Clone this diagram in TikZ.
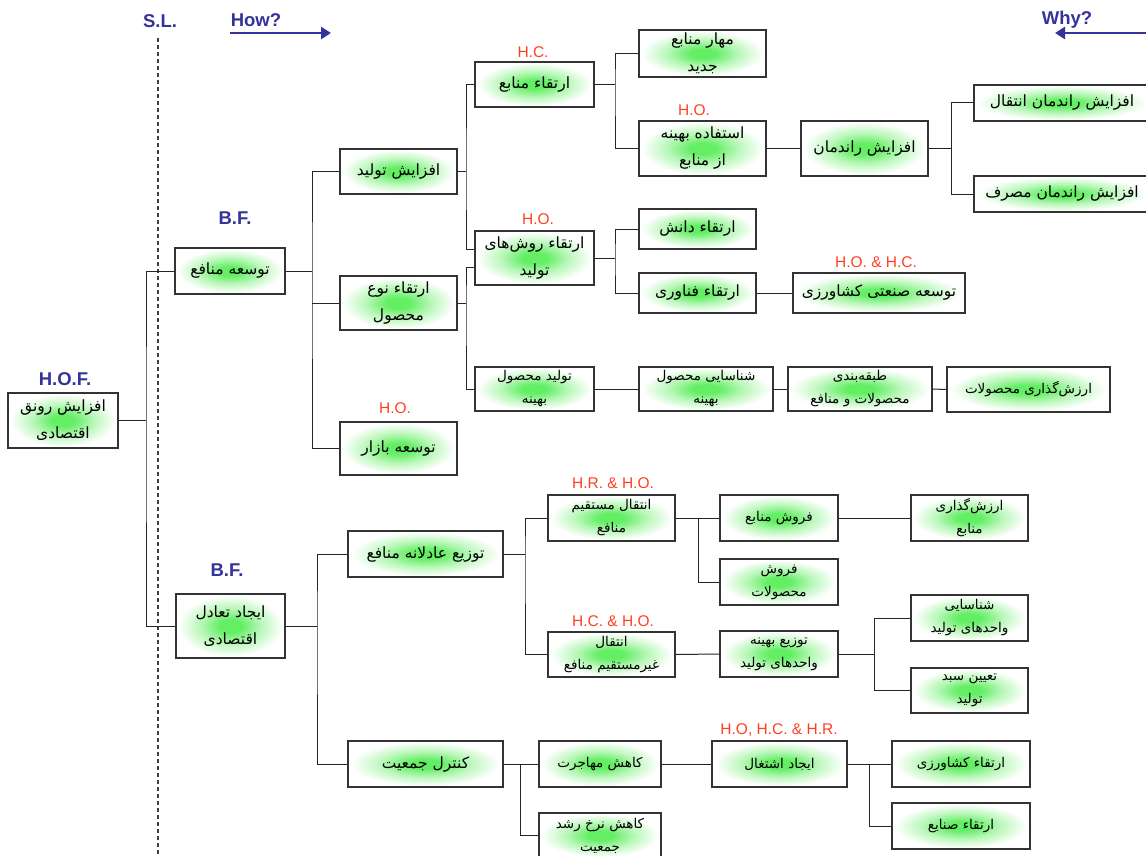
\documentclass[tikz,border=0pt]{standalone}
\usepackage{fontspec}
\setmainfont{Liberation Sans}
\newfontfamily\fafont[Script=Arabic]{DejaVu Sans}
\TeXXeTstate=1
\usetikzlibrary{calc,arrows.meta}
\definecolor{glowg}{RGB}{100,238,100}
\definecolor{navy}{RGB}{51,51,153}
\definecolor{lblred}{RGB}{255,64,32}
\pgfdeclareradialshading{glow}{\pgfpoint{0bp}{0bp}}{color(0bp)=(glowg); color(5bp)=(glowg); color(14bp)=(glowg!45!white); color(24bp)=(white); color(50bp)=(white)}
\newcommand\fa[1]{{\fafont\beginR #1\endR}}
\newcommand\bx[7][]{\node[box,#1,minimum width=#5pt,minimum height=#6pt] (#2) at (#3,#4) {#7};}
\begin{document}
\begin{tikzpicture}[x=1pt,y=-1pt,
  box/.style={draw=black!80, line width=1.1pt, shading=glow, inner sep=0pt, align=center,
    font=\fontsize{15.5}{27}\selectfont},
  small/.style={font=\fontsize{13.5}{23}\selectfont},
  conn/.style={draw=black!85, line width=1pt},
  bluelbl/.style={text=navy, font=\bfseries\fontsize{18.5}{18.5}\selectfont, inner sep=0pt},
  redlbl/.style={text=lblred, font=\fontsize{15.5}{16}\selectfont, inner sep=0pt},
  dirarrow/.style={navy, line width=2.8pt, -{Triangle[length=10pt,width=12pt]}},
  slline/.style={draw=black!75, line width=1.1pt, dash pattern=on 4pt off 3pt}]
\useasboundingbox (0,0) rectangle (1146,856);
\fill[white] (0,0) rectangle (1146,856);

% header
\node[bluelbl] (sl) at (160,21) {S.L.};
\node[bluelbl] (how) at (256,20) {How?};
\node[bluelbl] (why) at (1067,20) {Why?};
\coordinate (slt) at (158,38);
\coordinate (slb) at (158,860);
\draw[slline] (slt) -- (slb);
\coordinate (hs) at (230,33);
\coordinate (he) at (331,33);
\draw[dirarrow] (hs) -- (he);
\coordinate (ws) at (1150,33);
\coordinate (we) at (1055,33);
\draw[dirarrow] (ws) -- (we);

% labels
\node[bluelbl] (lhof) at (65,379) {H.O.F.};
\node[bluelbl] (lbf1) at (235,218) {B.F.};
\node[bluelbl] (lbf2) at (227,570) {B.F.};
\node[redlbl] (lb1) at (533,52) {H.C.};
\node[redlbl] (lc2) at (694,110) {H.O.};
\node[redlbl] (lb2) at (538,219) {H.O.};
\node[redlbl] (ld2) at (876,262) {H.O. \& H.C.};
\node[redlbl] (la3) at (395,408) {H.O.};
\node[redlbl] (lg1) at (613,483) {H.R. \& H.O.};
\node[redlbl] (lg2) at (613,621) {H.C. \& H.O.};
\node[redlbl] (ll1) at (779,730) {H.O, H.C. \& H.R.};

% boxes
\bx{hof}{63}{420.5}{110}{55}{\fa{افزایش رونق}\\\fa{اقتصادی}}
\bx{bf1}{230}{271}{110}{46}{\fa{توسعه منافع}}
\bx{bf2}{230.5}{626}{109}{64}{\fa{ایجاد تعادل}\\\fa{اقتصادی}}
\bx{a1}{398.5}{171.5}{117}{45}{\fa{افزایش تولید}}
\bx{a2}{398.5}{303}{117}{54}{\fa{ارتقاء نوع}\\\fa{محصول}}
\bx{a3}{398.5}{448.5}{117}{53}{\fa{توسعه بازار}}
\bx{b1}{534.5}{84.5}{119}{45}{\fa{ارتقاء منابع}}
\bx{b2}{534.5}{258}{119}{54}{\fa{ارتقاء روش‌های}\\\fa{تولید}}
\bx[small]{b3}{534.5}{389}{119}{44}{\fa{تولید محصول}\\\fa{بهینه}}
\bx{c1}{702.5}{53.5}{127}{47}{\fa{مهار منابع}\\\fa{جدید}}
\bx{c2}{702.5}{148.5}{127}{55}{\fa{استفاده بهینه}\\\fa{از منابع}}
\bx{c3}{697.5}{229}{117}{40}{\fa{ارتقاء دانش}}
\bx{c4}{697.5}{293}{117}{40}{\fa{ارتقاء فناوری}}
\bx[small]{c5}{706}{389}{134}{44}{\fa{شناسایی محصول}\\\fa{بهینه}}
\bx{d1}{864.5}{148.5}{127}{55}{\fa{افزایش راندمان}}
\bx{d2}{879}{293}{172}{40}{\fa{توسعه صنعتی کشاورزی}}
\bx[small]{d3}{860}{389}{144}{44}{\fa{طبقه‌بندی}\\\fa{محصولات و منافع}}
\bx{e1}{1062}{103}{176}{36}{\fa{افزایش راندمان انتقال}}
\bx{e2}{1062}{194}{176}{36}{\fa{افزایش راندمان مصرف}}
\bx[small]{e3}{1028.5}{389.5}{163}{45}{\fa{ارزش‌گذاری محصولات}}
\bx{f1}{425.5}{554}{155}{46}{\fa{توزیع عادلانه منافع}}
\bx{f2}{425.5}{764}{155}{46}{\fa{کنترل جمعیت}}
\bx[small]{g1}{611.5}{518}{127}{46}{\fa{انتقال مستقیم}\\\fa{منافع}}
\bx[small]{g2}{611.5}{654.5}{127}{45}{\fa{انتقال}\\\fa{غیرمستقیم منافع}}
\bx[small]{h1}{779}{518}{118}{46}{\fa{فروش منابع}}
\bx[small]{h2}{779}{582}{118}{46}{\fa{فروش}\\\fa{محصولات}}
\bx[small]{h3}{779}{654}{118}{46}{\fa{توزیع بهینه}\\\fa{واحدهای تولید}}
\bx[small]{i1}{969.5}{518}{117}{46}{\fa{ارزش‌گذاری}\\\fa{منابع}}
\bx[small]{i2}{969.5}{618}{117}{46}{\fa{شناسایی}\\\fa{واحدهای تولید}}
\bx[small]{i3}{969.5}{690.5}{117}{45}{\fa{تعیین سبد}\\\fa{تولید}}
\bx[small]{k1}{600}{764}{122}{46}{\fa{کاهش مهاجرت}}
\bx[small]{k2}{600}{835.5}{122}{45}{\fa{کاهش نرخ رشد}\\\fa{جمعیت}}
\bx[small]{l1}{779.5}{764}{135}{46}{\fa{ایجاد اشتغال}}
\bx[small]{m1}{961}{764}{138}{46}{\fa{ارتقاء کشاورزی}}
\bx[small]{m2}{961}{826}{138}{46}{\fa{ارتقاء صنایع}}

% junctions
\coordinate (jA) at (146,420.5);
\coordinate (jB) at (312,271);
\coordinate (jC) at (466,171.5);
\coordinate (jD) at (466,303);
\coordinate (jE) at (615,84.5);
\coordinate (jF) at (951,148.5);
\coordinate (jG) at (615,258);
\coordinate (jH) at (317,626);
\coordinate (jI) at (525,554);
\coordinate (jJ) at (698,518);
\coordinate (jK) at (874,654);
\coordinate (jL) at (520,764);
\coordinate (jM) at (869,764);

% connectors
\draw[conn] (hof.east) -- (jA);
\draw[conn] (bf1.west) -| (jA) |- (bf2.west);
\draw[conn] (bf1.east) -- (jB);
\draw[conn] (a1.west) -| (jB) |- (a3.west);
\draw[conn] (a2.west) -- (a2.west -| jB);
\draw[conn] (a1.east) -- (jC);
\draw[conn] (b1.west) -| (jC) |- ($(b2.west)+(0,-9)$);
\draw[conn] (a2.east) -- (jD);
\draw[conn] ($(b2.west)+(0,9)$) -| (jD) |- (b3.west);
\draw[conn] (b1.east) -- (jE);
\draw[conn] (c1.west) -| (jE) |- (c2.west);
\draw[conn] (c2.east) -- (d1.west);
\draw[conn] (d1.east) -- (jF);
\draw[conn] (e1.west) -| (jF) |- (e2.west);
\draw[conn] (b2.east) -- (jG);
\draw[conn] (c3.west) -| (jG) |- (c4.west);
\draw[conn] (c4.east) -- (d2.west);
\draw[conn] (b3.east) -- (c5.west);
\draw[conn] (c5.east) -- (d3.west);
\draw[conn] (d3.east) -- (e3.west);
\draw[conn] (bf2.east) -- (jH);
\draw[conn] (f1.west) -| (jH) |- (f2.west);
\draw[conn] (f1.east) -- (jI);
\draw[conn] (g1.west) -| (jI) |- (g2.west);
\draw[conn] (g1.east) -- (h1.west);
\draw[conn] (h2.west) -| (jJ);
\draw[conn] (h1.east) -- (i1.west);
\draw[conn] (g2.east) -- (h3.west);
\draw[conn] (h3.east) -- (jK);
\draw[conn] (i2.west) -| (jK) |- (i3.west);
\draw[conn] (f2.east) -- (k1.west);
\draw[conn] (k2.west) -| (jL);
\draw[conn] (k1.east) -- (l1.west);
\draw[conn] (l1.east) -- (m1.west);
\draw[conn] (m2.west) -| (jM);
\end{tikzpicture}
\end{document}
